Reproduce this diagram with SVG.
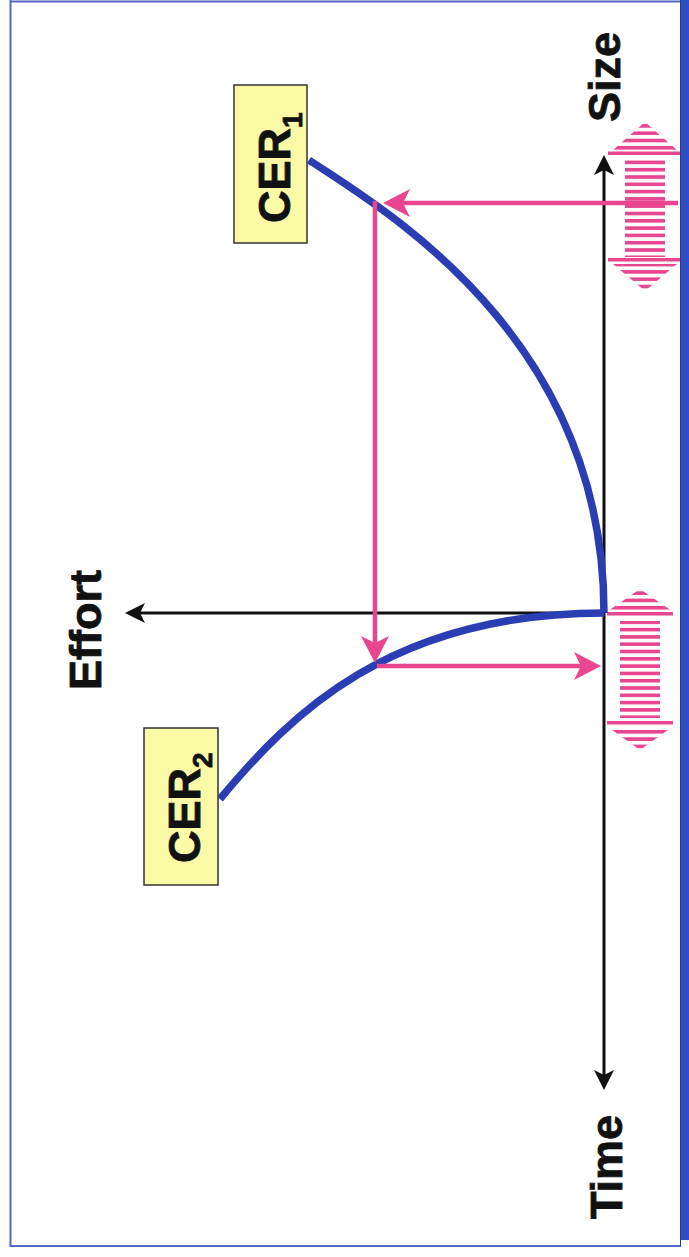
<svg xmlns="http://www.w3.org/2000/svg" width="689" height="1257" viewBox="0 0 689 1257">
  <style>
    .lbl { font-family: "Liberation Sans", Arial, Helvetica, sans-serif; font-weight: bold; fill: #111; stroke: #111; stroke-width: 0.8; }
    .big { font-size: 45px; }
    .sub { font-size: 28px; }
    .axis { stroke: #111; stroke-width: 3; fill: none; }
    .pink { stroke: #e8468f; stroke-width: 4.5; fill: none; }
    .curve { stroke: #2a3db3; stroke-width: 7.5; fill: none; stroke-linecap: butt; }
    .box { fill: #fafaa6; stroke: #333; stroke-width: 1.5; }
    .bar { fill: #e8468f; }
    .hatch { fill: url(#stripes); }
  </style>
  <defs>
    <pattern id="stripes" patternUnits="userSpaceOnUse" width="20" height="7.3">
      <rect x="0" y="0" width="20" height="3.6" fill="#e8468f"/>
    </pattern>
    <marker id="blackHead" viewBox="0 -10 20 20" markerWidth="20" markerHeight="20" refX="8" refY="0" orient="auto-start-reverse" markerUnits="userSpaceOnUse">
      <path d="M0,-10 L20,0 L0,10 L5,0 Z" fill="#111"/>
    </marker>
    <marker id="pinkHead" viewBox="0 -14 27 28" markerWidth="27" markerHeight="28" refX="10" refY="0" orient="auto" markerUnits="userSpaceOnUse">
      <path d="M0,-14 L27,0 L0,14 L7,0 Z" fill="#e8468f"/>
    </marker>
  </defs>

  <g id="frame">
    <rect x="0" y="0" width="689" height="1257" fill="#ffffff"/>
    <rect x="681" y="0" width="8" height="1240" fill="#2f4fc4"/>
    <line x1="10.5" y1="0" x2="10.5" y2="1247" stroke="#5567c8" stroke-width="2"/>
    <line x1="10" y1="1.5" x2="681" y2="1.5" stroke="#5567c8" stroke-width="2"/>
    <line x1="10" y1="1246" x2="681" y2="1246" stroke="#5567c8" stroke-width="2"/>
    <line x1="680.5" y1="0" x2="680.5" y2="1246" stroke="#2a3a90" stroke-width="1"/>
  </g>

  <g id="hatch-size">
    <polygon class="hatch" points="645,122 613,150 677,150"/>
    <rect class="bar" x="608" y="151.5" width="72" height="3.5"/>
    <rect class="hatch" x="625" y="159" width="40" height="98"/>
    <rect class="bar" x="608" y="258" width="72" height="3.5"/>
    <polygon class="hatch" points="613,264 677,264 645,291"/>
  </g>

  <g id="hatch-time">
    <polygon class="hatch" points="640,589 608,611 672,611"/>
    <rect class="bar" x="607" y="612" width="66" height="3.5"/>
    <rect class="hatch" x="620" y="621" width="40" height="97"/>
    <rect class="bar" x="607" y="721" width="66" height="3.5"/>
    <polygon class="hatch" points="608,727 672,727 640,750"/>
  </g>

  <g id="connectors">
    <line id="axis-size-time" class="axis" x1="604" y1="167" x2="604" y2="1078" marker-start="url(#blackHead)" marker-end="url(#blackHead)"/>
    <line id="axis-effort" class="axis" x1="604" y1="613" x2="137" y2="613" marker-end="url(#blackHead)"/>
    <path id="curve-cer1" class="curve" d="M604,613 C604,333 377,206 309,160"/>
    <path id="curve-cer2" class="curve" d="M604,613 C390,613 290,715 220,799"/>
    <line id="pink-size-to-cer1" class="pink" x1="678" y1="203" x2="400" y2="203" marker-end="url(#pinkHead)"/>
    <line id="pink-cer1-to-cer2" class="pink" x1="375" y1="201" x2="375" y2="646" marker-end="url(#pinkHead)"/>
    <line id="pink-cer2-to-time" class="pink" x1="377" y1="666" x2="584" y2="666" marker-end="url(#pinkHead)"/>
  </g>

  <g id="label-size">
    <text class="lbl big" transform="translate(620,77) rotate(-90)" text-anchor="middle">Size</text>
  </g>
  <g id="label-time">
    <text class="lbl big" transform="translate(622,1167) rotate(-90)" text-anchor="middle">Time</text>
  </g>
  <g id="label-effort">
    <text class="lbl big" transform="translate(101,630) rotate(-90)" text-anchor="middle">Effort</text>
  </g>

  <g id="node-cer1">
    <rect class="box" x="234" y="85" width="73" height="158"/>
    <text class="lbl big" transform="translate(290,223) rotate(-90)">CER<tspan class="sub" dy="12">1</tspan></text>
  </g>
  <g id="node-cer2">
    <rect class="box" x="144" y="728" width="74" height="157"/>
    <text class="lbl big" transform="translate(200,863) rotate(-90)">CER<tspan class="sub" dy="12">2</tspan></text>
  </g>
</svg>
